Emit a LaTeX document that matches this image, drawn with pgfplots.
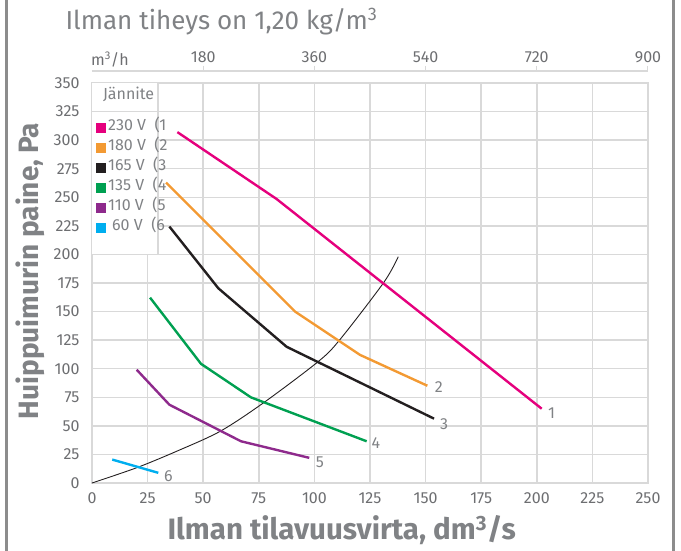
\documentclass[border=0pt]{standalone}
\usepackage{fontspec}
\setmainfont{Fira Sans}
\usepackage{pgfplots}
\pgfplotsset{compat=1.18}
\definecolor{c1}{HTML}{E5007D}
\definecolor{c2}{HTML}{F39A33}
\definecolor{c3}{HTML}{231F20}
\definecolor{c4}{HTML}{00A051}
\definecolor{c5}{HTML}{8E2A8C}
\definecolor{c6}{HTML}{00AEEF}
\definecolor{txt}{HTML}{808285}
\definecolor{tickc}{HTML}{6D6E71}
\definecolor{gridc}{HTML}{D9D9D9}
\definecolor{framec}{HTML}{8C8C8C}
\begin{document}
\begin{tikzpicture}[x=1pt,y=1pt]
\path[use as bounding box] (-92,-68) rectangle (589,483);
\draw[framec, line width=3pt] (-85,-68) -- (-85,483);
\draw[framec, line width=3pt] (581,-68) -- (581,483);
\node[anchor=west, text=txt, font=\fontsize{26}{26}\selectfont] at (-30,461) {Ilman tiheys on 1,20 kg/m\textsuperscript{3}};
% top axis (m3/h)
\begin{axis}[at={(0,0)}, anchor=south west, scale only axis, width=556pt, height=412pt,
  xmin=0, xmax=900, ymin=0, ymax=1, hide y axis, axis x line*=top,
  x axis line style={-, gridc, line width=1.2pt},
  xtick={180,360,540,720,900}, tick align=outside, major tick length=5pt,
  tick style={gridc, line width=1pt},
  extra x ticks={29}, extra x tick labels={m\textsuperscript{3}/h},
  extra x tick style={major tick length=0pt},
  xticklabel style={font=\fontsize{16}{16}\selectfont, text=tickc},
  /pgf/number format/assume math mode=true, /pgf/number format/1000 sep={}]
\addplot[draw=none, forget plot] coordinates {(0,0) (900,1)};
\end{axis}
% main axis
\begin{axis}[at={(0,0)}, anchor=south west, scale only axis, width=556pt, height=400pt,
  xmin=0, xmax=250, ymin=0, ymax=350,
  xtick={0,25,...,250}, ytick={0,25,...,350},
  grid=major, major grid style={gridc, line width=1.5pt},
  axis line style={gridc, line width=1.5pt}, tick style={draw=none},
  ticklabel style={font=\fontsize{16}{16}\selectfont, text=tickc},
  xticklabel style={yshift=-6pt}, yticklabel style={xshift=-9pt},
  /pgf/number format/assume math mode=true,
  clip=false,
  xlabel={\textbf{Ilman tilavuusvirta, dm\textsuperscript{3}/s}},
  xlabel style={at={(axis description cs:0.449,0)}, anchor=center, yshift=-47pt, font=\fontsize{29.5}{29.5}\selectfont, text=txt},
  ylabel={\textbf{Huippuimurin paine, Pa}},
  ylabel style={at={(axis description cs:-0.1115,0.53)}, anchor=center, font=\fontsize{28}{28}\selectfont, text=txt}]
\fill[white] (axis cs:0,200) rectangle (axis cs:29.7,350);
\draw[gridc, line width=1.5pt] (axis cs:29.7,200) -- (axis cs:29.7,350);
\draw[gridc, line width=1.5pt] (axis cs:0,325) -- (axis cs:29.7,325);
% system curve
\addplot[c3, line width=0.9pt, smooth] coordinates {(0,0) (20,13.3) (38.1,27.8) (57.6,45.2) (77,70) (101.5,105.9) (111.2,124.8) (131.2,175.5) (137.7,198)};
\addplot[c1, line width=2.4pt] coordinates {(38.4,307) (83,248.5) (202.2,65)};
\addplot[c2, line width=2.4pt] coordinates {(33.3,262.9) (91.3,150) (120.5,112.1) (150.8,85.1)};
\addplot[c3, line width=2.4pt] coordinates {(34.8,224.4) (56.8,170.4) (87.5,119.2) (153.8,56.3)};
\addplot[c4, line width=2.4pt] coordinates {(26.1,162.2) (49,104.3) (71.5,74.9) (123.5,36.5)};
\addplot[c5, line width=2.4pt] coordinates {(20.1,99.1) (34.8,68.5) (67,36.5) (97.7,22)};
\addplot[c6, line width=2.4pt] coordinates {(9.1,20.5) (29.8,8.9)};
\begin{scope}[every node/.style={text=txt, font=\fontsize{16}{16}\selectfont}]
\node at (axis cs:206.7,61) {1};
\node at (axis cs:156,84.3) {2};
\node at (axis cs:158.3,51.6) {3};
\node at (axis cs:127.7,34.7) {4};
\node at (axis cs:102.5,18.1) {5};
\node at (axis cs:34.3,6.1) {6};
\end{scope}
% legend
\begin{scope}[every node/.style={text=txt, font=\fontsize{16}{16}\selectfont, inner sep=0pt, anchor=mid west}]
\node at (axis cs:4.9,337.7) {Jännite};
\fill[c1] (axis cs:2.0,306.2) rectangle (axis cs:6.5,315.0);
\node at (axis cs:7.2,310.6) {230 V \ (1};
\fill[c2] (axis cs:2.0,288.7) rectangle (axis cs:6.5,297.5);
\node at (axis cs:7.2,293.1) {180 V \ (2};
\fill[c3] (axis cs:2.0,271.2) rectangle (axis cs:6.5,280.0);
\node at (axis cs:7.2,275.6) {165 V \ (3};
\fill[c4] (axis cs:2.0,253.7) rectangle (axis cs:6.5,262.5);
\node at (axis cs:7.2,258.1) {135 V \ (4};
\fill[c5] (axis cs:2.0,236.2) rectangle (axis cs:6.5,245.0);
\node at (axis cs:7.2,240.6) {110 V \ (5};
\fill[c6] (axis cs:2.0,218.7) rectangle (axis cs:6.5,227.5);
\node at (axis cs:7.2,223.1) {\hspace*{4pt}60 V \ (6};
\end{scope}
\end{axis}
\end{tikzpicture}
\end{document}
